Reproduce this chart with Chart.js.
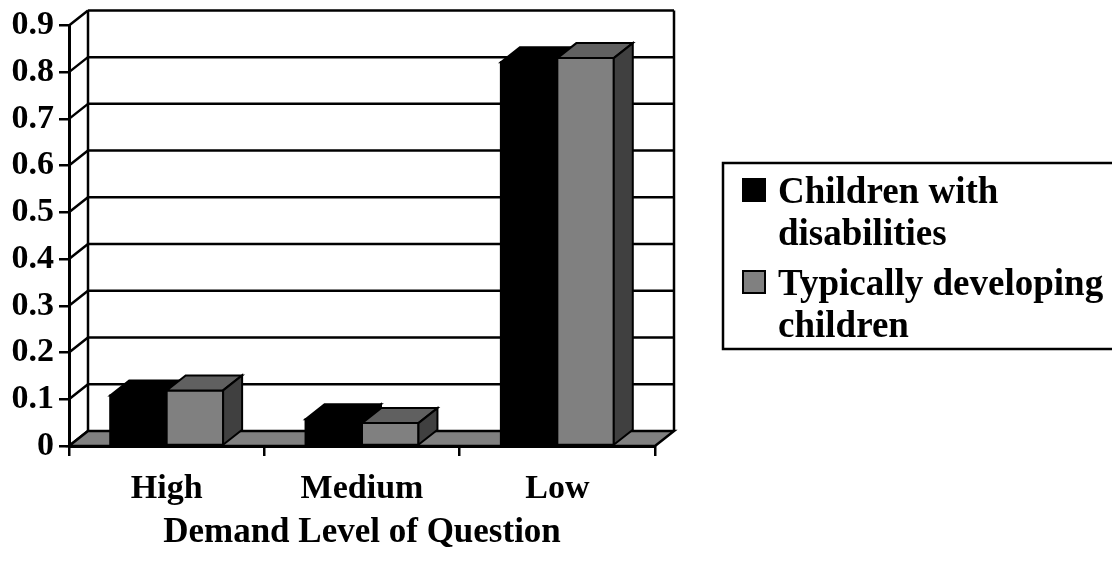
<!DOCTYPE html>
<html>
<head>
<meta charset="utf-8">
<script src="https://cdn.jsdelivr.net/npm/chart.js@4"></script>
<style>
html,body{margin:0;padding:0;background:#fff;}
#wrap{width:1112px;height:562px;position:relative;}
</style>
</head>
<body>
<div id="wrap"><canvas id="c"></canvas></div>
<script>
// ---- data ----
const categories = ['High', 'Medium', 'Low'];
const disabilitiesValues = [0.108, 0.057, 0.821];
const typicalValues = [0.119, 0.049, 0.830];
const seriesLabels = ['Children with disabilities', 'Typically developing children'];
const legendLines = [['Children with', 'disabilities'], ['Typically developing', 'children']];
const yTickValues = [0, 0.1, 0.2, 0.3, 0.4, 0.5, 0.6, 0.7, 0.8, 0.9];
const xTitle = 'Demand Level of Question';

// ---- styles ----
const FONT = 'Liberation Serif, Times New Roman, serif';
const DX = 19, DY = 15;
const faceColors = [
  {front: '#000000', top: '#000000', side: '#000000'},
  {front: '#808080', top: '#606060', side: '#404040'}
];

const threeD = {
  id: 'threeD',
  beforeDatasetsDraw(chart) {
    const {ctx, chartArea: a, scales: {y}} = chart;
    ctx.save();
    ctx.strokeStyle = '#000';
    ctx.lineWidth = 2.5;
    ctx.lineCap = 'butt';
    yTickValues.forEach(v => {
      const py = y.getPixelForValue(v);
      ctx.beginPath();
      if (v > 0) {
        ctx.moveTo(a.left + DX, py - DY);
        ctx.lineTo(a.right + DX, py - DY);
      }
      ctx.moveTo(a.left, py);
      ctx.lineTo(a.left + DX, py - DY);
      ctx.stroke();
    });
    ctx.beginPath();
    ctx.moveTo(a.left + DX, a.top - DY);
    ctx.lineTo(a.left + DX, a.bottom - DY);
    ctx.moveTo(a.right + DX, a.top - DY);
    ctx.lineTo(a.right + DX, a.bottom - DY);
    ctx.stroke();
    const by = y.getPixelForValue(0);
    ctx.beginPath();
    ctx.moveTo(a.left, by);
    ctx.lineTo(a.right, by);
    ctx.lineTo(a.right + DX, by - DY);
    ctx.lineTo(a.left + DX, by - DY);
    ctx.closePath();
    ctx.fillStyle = '#808080';
    ctx.fill();
    ctx.stroke();
    ctx.restore();
  },
  afterDatasetsDraw(chart) {
    const {ctx} = chart;
    ctx.save();
    ctx.strokeStyle = '#000';
    ctx.lineWidth = 2;
    ctx.lineJoin = 'miter';
    chart.data.datasets.forEach((ds, i) => {
      const meta = chart.getDatasetMeta(i);
      const col = faceColors[i];
      meta.data.forEach(bar => {
        const p = bar.getProps(['x', 'y', 'base', 'width'], true);
        const l = p.x - p.width / 2, r = p.x + p.width / 2, t = p.y, b = p.base;
        // front
        ctx.beginPath();
        ctx.rect(l, t, r - l, b - t);
        ctx.fillStyle = col.front; ctx.fill(); ctx.stroke();
        // top
        ctx.beginPath();
        ctx.moveTo(l, t); ctx.lineTo(r, t); ctx.lineTo(r + DX, t - DY); ctx.lineTo(l + DX, t - DY); ctx.closePath();
        ctx.fillStyle = col.top; ctx.fill(); ctx.stroke();
        // side
        ctx.beginPath();
        ctx.moveTo(r, t); ctx.lineTo(r + DX, t - DY); ctx.lineTo(r + DX, b - DY); ctx.lineTo(r, b); ctx.closePath();
        ctx.fillStyle = col.side; ctx.fill(); ctx.stroke();
      });
    });
    ctx.restore();
  },
  afterDraw(chart) {
    const {ctx} = chart;
    ctx.save();
    ctx.strokeStyle = '#000';
    ctx.lineWidth = 2.5;
    ctx.strokeRect(723, 163, 420, 186);
    ctx.font = 'bold 37px ' + FONT;
    ctx.textBaseline = 'alphabetic';
    ctx.textAlign = 'left';
    const baselines = [[203, 245], [295, 337]];
    chart.data.datasets.forEach((ds, i) => {
      const sy = baselines[i][0] - 24;
      ctx.fillStyle = faceColors[i].front;
      ctx.fillRect(743, sy, 22, 22);
      ctx.lineWidth = 2;
      ctx.strokeRect(743, sy, 22, 22);
      ctx.fillStyle = '#000';
      legendLines[i].forEach((line, j) => {
        ctx.fillText(line, 778, baselines[i][j]);
      });
    });
    ctx.restore();
  }
};

new Chart(document.getElementById('c'), {
  type: 'bar',
  data: {
    labels: categories,
    datasets: [
      {label: seriesLabels[0], data: disabilitiesValues, backgroundColor: 'rgba(0,0,0,0)', borderWidth: 0},
      {label: seriesLabels[1], data: typicalValues, backgroundColor: 'rgba(0,0,0,0)', borderWidth: 0}
    ]
  },
  plugins: [threeD],
  options: {
    responsive: true,
    maintainAspectRatio: false,
    animation: false,
    devicePixelRatio: 1,
    layout: {padding: {top: 23, right: 457, bottom: 0, left: 0}},
    datasets: {bar: {categoryPercentage: 0.578, barPercentage: 1}},
    plugins: {legend: {display: false}, tooltip: {enabled: false}},
    scales: {
      x: {
        afterFit(s) { s.height = 116; },
        grid: {display: true, drawOnChartArea: false, drawTicks: true, tickLength: 10, color: '#000', lineWidth: 2.5, offset: true},
        border: {display: true, color: '#000', width: 3},
        ticks: {color: '#000', font: {family: FONT, size: 34, weight: 'bold'}, padding: 13, maxRotation: 0},
        title: {display: true, text: xTitle, color: '#000', font: {family: FONT, size: 35, weight: 'bold'}, padding: {top: 0, bottom: 8}}
      },
      y: {
        min: 0, max: 0.9,
        afterFit(s) { s.width = 69; },
        afterBuildTicks(s) { s.ticks = yTickValues.map(v => ({value: v})); },
        grid: {display: true, drawOnChartArea: false, drawTicks: true, tickLength: 10, color: '#000', lineWidth: 2.5},
        border: {display: true, color: '#000', width: 3},
        ticks: {color: '#000', font: {family: FONT, size: 34, weight: 'bold'}, padding: 5,
          callback: v => String(Number(v.toFixed(1)))}
      }
    }
  }
});
</script>
</body>
</html>
